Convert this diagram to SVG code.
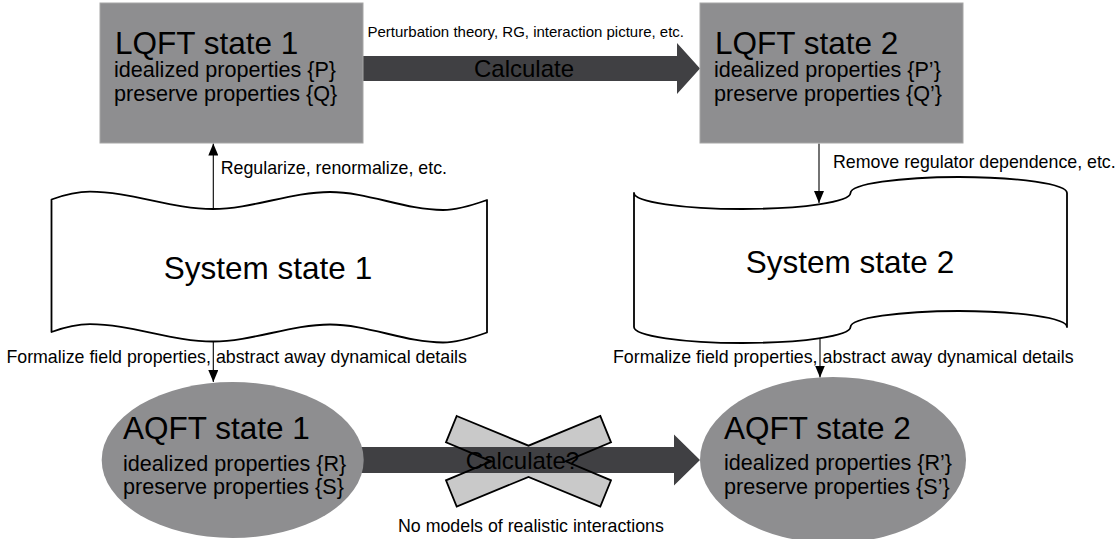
<svg xmlns="http://www.w3.org/2000/svg" width="1120" height="539" viewBox="0 0 1120 539">
  <defs>
    <style>
      text { font-family: "Liberation Sans", Arial, sans-serif; fill: #000; }
      .box { fill: #8e8e90; stroke: #a6a6a6; stroke-width: 1; }
      .oval { fill: #8e8e90; stroke: none; }
      .tape { fill: #fff; stroke: #000; stroke-width: 1.8; stroke-linejoin: round; }
      .thin { fill: none; stroke: #000; stroke-width: 1.1; marker-end: url(#ah); }
      .block { fill: #404043; }
      .t-title { font-size: 31.5px; }
      .t-sub { font-size: 21.6px; }
      .t-lbl { font-size: 17.8px; }
      .t-calc { font-size: 24px; }
      .xfill { fill: #c9c9c9; stroke: none; }
      .xline { fill: none; stroke: #000; stroke-width: 1.8; stroke-linejoin: miter; }
    </style>
    <marker id="ah" viewBox="0 0 12 10" refX="12" refY="5" markerUnits="userSpaceOnUse" markerWidth="12" markerHeight="10" orient="auto">
      <path d="M0,0 L12,5 L0,10 Z" fill="#000"/>
    </marker>
  </defs>
  <rect width="1120" height="539" fill="#fff"/>

  <g id="connectors">
    <!-- top block arrow -->
    <polygon class="block" points="362,56 677,56 677,43 700,68.5 677,94 677,81 362,81"/>
    <text class="t-calc" x="524" y="77" text-anchor="middle">Calculate</text>
    <text x="367.5" y="37" style="font-size:15px">Perturbation theory, RG, interaction picture, etc.</text>

    <!-- bottom block arrow with X -->
    <polygon class="xfill" points="456.7,416 528.5,445.7 600.3,416 611,442.3 565.7,461.3 611,480.3 600.3,506.6 528.5,476.9 456.7,506.6 446,480.3 491.3,461.3 446,442.3"/>
    <polygon class="block" points="340,447 674,447 674,434.5 700,460 674,485.5 674,473 340,473"/>
    <polygon class="xline" points="456.7,416 528.5,445.7 600.3,416 611,442.3 565.7,461.3 611,480.3 600.3,506.6 528.5,476.9 456.7,506.6 446,480.3 491.3,461.3 446,442.3"/>
    <line class="xline" x1="491.3" y1="461.3" x2="565.7" y2="461.3" stroke-opacity="0"/>
    <text class="t-calc" x="522.5" y="469" text-anchor="middle">Calculate?</text>
    <text class="t-lbl" x="398" y="532">No models of realistic interactions</text>

    <!-- thin arrows -->
    <line class="thin" x1="213.3" y1="209" x2="213.3" y2="143.5"/>
    <text class="t-lbl" x="220.7" y="174">Regularize, renormalize, etc.</text>

    <line class="thin" x1="819" y1="143.5" x2="819" y2="203"/>
    <text class="t-lbl" x="833" y="168">Remove regulator dependence, etc.</text>

    <line class="thin" x1="213.3" y1="341.5" x2="213.3" y2="382"/>
    <text class="t-lbl" x="6.4" y="363">Formalize field properties, abstract away dynamical details</text>

    <line class="thin" x1="820" y1="338.5" x2="820" y2="377.5"/>
    <text class="t-lbl" x="613" y="363">Formalize field properties, abstract away dynamical details</text>
  </g>

  <g id="lqft1">
    <rect class="box" x="100" y="3" width="263" height="140"/>
    <text class="t-title" x="115" y="54">LQFT state 1</text>
    <text class="t-sub" x="114" y="77">idealized properties {P}</text>
    <text class="t-sub" x="114" y="101">preserve properties {Q}</text>
  </g>

  <g id="lqft2">
    <rect class="box" x="700" y="3" width="263" height="140"/>
    <text class="t-title" x="715" y="54">LQFT state 2</text>
    <text class="t-sub" x="714" y="77">idealized properties {P’}</text>
    <text class="t-sub" x="714" y="101">preserve properties {Q’}</text>
  </g>

  <g id="system1">
    <path class="tape" d="M51.5,199.5 C64,195 77,191.7 90,191.7 C131,191.7 172,209 213,209 C252,209 291,192 330,192 C368,192 405,210 443,210 C458,210 473,205 487,200 L487,332.5 C473,337.5 458,342.5 443,342.5 C405,342.5 368,324.5 330,324.5 C291,324.5 252,341.5 213,341.5 C172,341.5 131,324.2 90,324.2 C77,324.2 64,327.5 51.5,332 Z"/>
    <text class="t-title" x="268" y="279" text-anchor="middle">System state 1</text>
  </g>

  <g id="system2">
    <path class="tape" d="M634,193 A108.25,16 0 0 0 850.5,193 A108.25,16 0 0 1 1067,193 L1067,327 A108.25,16 0 0 0 850.5,327 A108.25,16 0 0 1 634,327 Z"/>
    <text class="t-title" x="850" y="273" text-anchor="middle">System state 2</text>
  </g>

  <g id="aqft1">
    <ellipse class="oval" cx="232.7" cy="460" rx="131" ry="78"/>
    <text class="t-title" x="123" y="439">AQFT state 1</text>
    <text class="t-sub" x="123" y="471">idealized properties {R}</text>
    <text class="t-sub" x="123" y="494">preserve properties {S}</text>
  </g>

  <g id="aqft2">
    <ellipse class="oval" cx="833" cy="460" rx="133" ry="83"/>
    <text class="t-title" x="724" y="439">AQFT state 2</text>
    <text class="t-sub" x="724" y="470">idealized properties {R’}</text>
    <text class="t-sub" x="724" y="494">preserve properties {S’}</text>
  </g>
</svg>
